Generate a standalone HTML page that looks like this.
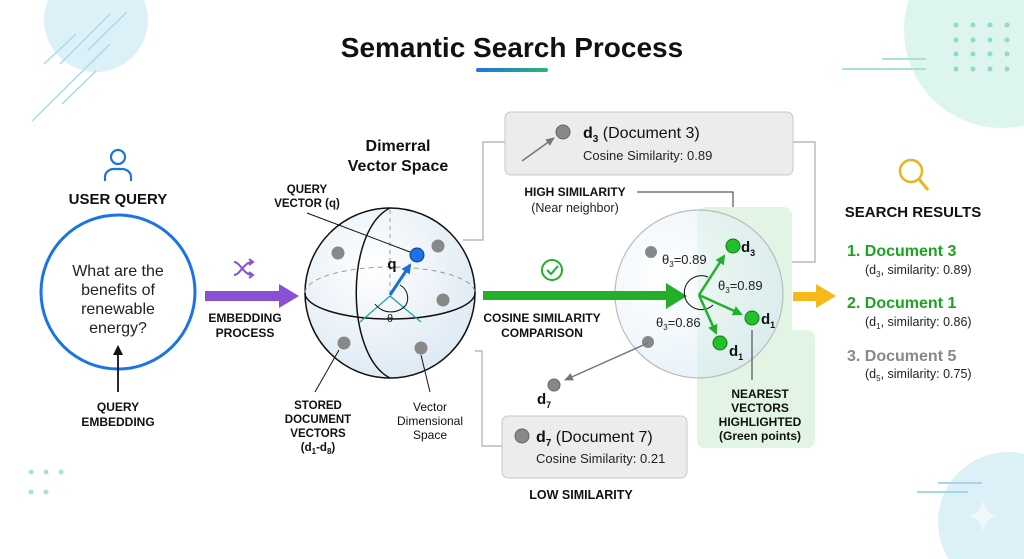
<!DOCTYPE html>
<html><head><meta charset="utf-8"><style>
html,body{margin:0;padding:0;background:#fff;width:1024px;height:559px;overflow:hidden;}
svg{display:block;font-family:"Liberation Sans",sans-serif;}
.b{font-weight:bold;}
</style></head><body>
<svg width="1024" height="559" viewBox="0 0 1024 559" xmlns="http://www.w3.org/2000/svg">
<defs>
<linearGradient id="ul" x1="0" x2="1"><stop offset="0" stop-color="#1a73e8"/><stop offset="1" stop-color="#2bb673"/></linearGradient>
<radialGradient id="sph" cx="0.4" cy="0.35" r="0.7"><stop offset="0" stop-color="#ffffff"/><stop offset="1" stop-color="#dde9f3"/></radialGradient>
<radialGradient id="sph2" cx="0.3" cy="0.4" r="0.7"><stop offset="0" stop-color="#ffffff"/><stop offset="1" stop-color="#d6e8f4"/></radialGradient>
<marker id="ab" markerUnits="userSpaceOnUse" markerWidth="10" markerHeight="10" refX="8" refY="5" orient="auto"><path d="M0,0 L10,5 L0,10 z" fill="#1a6fd8"/></marker>
<marker id="ag" markerUnits="userSpaceOnUse" markerWidth="10" markerHeight="10" refX="8" refY="5" orient="auto"><path d="M0,0 L10,5 L0,10 z" fill="#22b02a"/></marker>
<marker id="agr" markerUnits="userSpaceOnUse" markerWidth="9" markerHeight="8" refX="8" refY="4" orient="auto"><path d="M0,0 L9,4 L0,8 z" fill="#777"/></marker>
<marker id="ak" markerUnits="userSpaceOnUse" markerWidth="10" markerHeight="10" refX="8" refY="5" orient="auto"><path d="M0,0 L10,5 L0,10 z" fill="#111"/></marker>
</defs>
<circle cx="96" cy="20" r="52" fill="#dcf0f8"/>
<g stroke="#a9dbe3" stroke-width="1.5">
<line x1="44" y1="64" x2="76" y2="34"/><line x1="60" y1="64" x2="110" y2="14"/><line x1="88" y1="50" x2="127" y2="12"/>
<line x1="32" y1="121" x2="110" y2="44"/><line x1="62" y1="104" x2="96" y2="71"/></g>
<circle cx="1002" cy="30" r="98" fill="#dcf6ee"/>
<g fill="#8fd8d8">
<circle cx="956" cy="25" r="2.5"/><circle cx="973" cy="25" r="2.5"/><circle cx="990" cy="25" r="2.5"/><circle cx="1007" cy="25" r="2.5"/>
<circle cx="956" cy="40" r="2.5"/><circle cx="973" cy="40" r="2.5"/><circle cx="990" cy="40" r="2.5"/><circle cx="1007" cy="40" r="2.5"/>
<circle cx="956" cy="54" r="2.5"/><circle cx="973" cy="54" r="2.5"/><circle cx="990" cy="54" r="2.5"/><circle cx="1007" cy="54" r="2.5"/>
<circle cx="956" cy="69" r="2.5"/><circle cx="973" cy="69" r="2.5"/><circle cx="990" cy="69" r="2.5"/><circle cx="1007" cy="69" r="2.5"/></g>
<g stroke="#a9e0dc" stroke-width="2"><line x1="842" y1="69" x2="926" y2="69"/><line x1="882" y1="59" x2="926" y2="59"/></g>
<circle cx="1008" cy="522" r="70" fill="#dcf0f8"/>
<path d="M983,500 Q985,513 997,516 Q985,519 983,532 Q981,519 969,516 Q981,513 983,500z" fill="#f0f8fc"/>
<g stroke="#a9d6e6" stroke-width="2"><line x1="938" y1="483" x2="982" y2="483"/><line x1="917" y1="492" x2="968" y2="492"/></g>
<g fill="#a9dfe0"><circle cx="31" cy="472" r="2.5"/><circle cx="46" cy="472" r="2.5"/><circle cx="61" cy="472" r="2.5"/><circle cx="31" cy="492" r="2.5"/><circle cx="46" cy="492" r="2.5"/></g>
<text x="512" y="57" text-anchor="middle" class="b" font-size="28" fill="#111">Semantic Search Process</text>
<rect x="476" y="68" width="72" height="4" rx="2" fill="url(#ul)"/>
<circle cx="118" cy="157" r="7" fill="none" stroke="#1a73e8" stroke-width="2.2"/>
<path d="M105,181 v-4 a9,8 0 0 1 9,-8 h8 a9,8 0 0 1 9,8 v4" fill="none" stroke="#1a73e8" stroke-width="2.2"/>
<text x="118" y="204" text-anchor="middle" class="b" font-size="15" fill="#111">USER QUERY</text>
<circle cx="118" cy="292" r="77" fill="#fff" stroke="#1a73e8" stroke-width="3"/>
<g font-size="16" fill="#222" text-anchor="middle"><text x="118" y="276">What are the</text><text x="118" y="295">benefits of</text><text x="118" y="314">renewable</text><text x="118" y="333">energy?</text></g>
<line x1="118" y1="392" x2="118" y2="347" stroke="#111" stroke-width="1.8" marker-end="url(#ak)"/>
<g class="b" font-size="12" fill="#111" text-anchor="middle"><text x="118" y="411">QUERY</text><text x="118" y="426">EMBEDDING</text></g>
<rect x="205" y="291" width="76" height="10" fill="#8b4fd6"/><path d="M279,284 L299,296 L279,308z" fill="#8b4fd6"/>
<g stroke="#8b4fd6" stroke-width="2" fill="none"><path d="M234,262 c6,0 10,13 18,13"/><path d="M234,275 c6,0 10,-13 18,-13"/><path d="M249,259 l4,3 -4,3"/><path d="M249,272 l4,3 -4,3"/></g>
<g class="b" font-size="12" fill="#111" text-anchor="middle"><text x="245" y="322">EMBEDDING</text><text x="245" y="337">PROCESS</text></g>
<g class="b" font-size="16" fill="#111" text-anchor="middle"><text x="398" y="151">Dimerral</text><text x="398" y="171">Vector Space</text></g>
<g class="b" font-size="11.5" fill="#111" text-anchor="middle"><text x="307" y="193">QUERY</text><text x="307" y="207">VECTOR (q)</text></g>
<circle cx="390" cy="293" r="85" fill="url(#sph)" stroke="#111" stroke-width="1.5"/>
<path d="M305,293 A85,26 0 0 1 475,293" fill="none" stroke="#999" stroke-dasharray="5,4"/>
<path d="M305,293 A85,26 0 0 0 475,293" fill="none" stroke="#111" stroke-width="1.5"/>
<path d="M390,208 C345,230 345,355 390,378" fill="none" stroke="#111" stroke-width="1.5"/>
<line x1="390" y1="210" x2="390" y2="295" stroke="#999" stroke-dasharray="4,4"/>
<line x1="307" y1="213" x2="410" y2="252" stroke="#111"/>
<g stroke="#1aa3a3" stroke-width="1.2"><line x1="390" y1="296" x2="360" y2="322"/><line x1="390" y1="296" x2="421" y2="322"/></g>
<path d="M375,304 A20,20 0 0 0 406,305" fill="none" stroke="#111"/>
<path d="M400,285 A15,15 0 0 1 406,305" fill="none" stroke="#111"/>
<line x1="390" y1="295" x2="410" y2="265" stroke="#1a6fd8" stroke-width="3" marker-end="url(#ab)"/>
<circle cx="417" cy="255" r="7" fill="#1a73e8" stroke="#0b3f8a"/>
<text x="392" y="269" class="b" font-size="15" fill="#111" text-anchor="middle">q</text>
<text x="390" y="322" font-size="11" fill="#111" text-anchor="middle">θ</text>
<g fill="#888"><circle cx="338" cy="253" r="6.5"/><circle cx="438" cy="246" r="6.5"/><circle cx="443" cy="300" r="6.5"/><circle cx="344" cy="343" r="6.5"/><circle cx="421" cy="348" r="6.5"/></g>
<line x1="339" y1="350" x2="315" y2="392" stroke="#111"/>
<line x1="421" y1="355" x2="430" y2="392" stroke="#111"/>
<g class="b" font-size="11.5" fill="#111" text-anchor="middle"><text x="318" y="409">STORED</text><text x="318" y="423">DOCUMENT</text><text x="318" y="437">VECTORS</text><text x="318" y="451">(d<tspan font-size="8" dy="3">1</tspan><tspan dy="-3">-d</tspan><tspan font-size="8" dy="3">8</tspan><tspan dy="-3">)</tspan></text></g>
<g font-size="12" fill="#111" text-anchor="middle"><text x="430" y="411">Vector</text><text x="430" y="425">Dimensional</text><text x="430" y="439">Space</text></g>
<g stroke="#aaa" fill="none" stroke-width="1.2"><path d="M463,240 H483 V142 H505"/><path d="M793,142 H815 V262 H780"/><path d="M475,351 H482 V446 H502"/></g>
<rect x="505" y="112" width="288" height="63" rx="6" fill="#ececec" stroke="#c8c8c8"/>
<circle cx="563" cy="132" r="7" fill="#888" stroke="#666"/>
<line x1="522" y1="161" x2="554" y2="138" stroke="#777" stroke-width="1.5" marker-end="url(#agr)"/>
<text x="583" y="138" font-size="16" fill="#111"><tspan class="b">d</tspan><tspan class="b" font-size="10" dy="4">3</tspan><tspan dy="-4"> (Document 3)</tspan></text>
<text x="583" y="160" font-size="13" fill="#222">Cosine Similarity: 0.89</text>
<text x="575" y="196" class="b" font-size="12" fill="#111" text-anchor="middle">HIGH SIMILARITY</text>
<text x="575" y="212" font-size="12.5" fill="#222" text-anchor="middle">(Near neighbor)</text>
<path d="M637,192 H733 V237" fill="none" stroke="#333"/>
<rect x="697" y="207" width="95" height="241" rx="8" fill="#e2f5e4"/>
<rect x="697" y="330" width="118" height="118" rx="8" fill="#e2f5e4"/>
<circle cx="699" cy="294" r="84" fill="url(#sph2)" fill-opacity="0.6" stroke="#bbb" stroke-width="1.2"/>
<rect x="483" y="291" width="185" height="9" fill="#22b02a"/><path d="M666,283 L687,296 L666,309z" fill="#22b02a"/>
<circle cx="552" cy="270" r="10" fill="none" stroke="#22b02a" stroke-width="2"/><path d="M547,270 l4,4 7,-8" fill="none" stroke="#22b02a" stroke-width="2"/>
<g class="b" font-size="12" fill="#111" text-anchor="middle"><text x="542" y="322">COSINE SIMILARITY</text><text x="542" y="337">COMPARISON</text></g>
<path d="M708,277 A17,17 0 1 0 713,305" fill="none" stroke="#111"/>
<g stroke="#22b02a" stroke-width="2.5"><line x1="699" y1="295" x2="724" y2="256" marker-end="url(#ag)"/><line x1="699" y1="295" x2="741" y2="314" marker-end="url(#ag)"/><line x1="699" y1="295" x2="716" y2="333" marker-end="url(#ag)"/></g>
<g fill="#22c02a" stroke="#127a18"><circle cx="733" cy="246" r="7"/><circle cx="752" cy="318" r="7"/><circle cx="720" cy="343" r="7"/></g>
<g class="b" font-size="15" fill="#111"><text x="741" y="252">d<tspan font-size="9" dy="4">3</tspan></text><text x="761" y="324">d<tspan font-size="9" dy="4">1</tspan></text><text x="729" y="356">d<tspan font-size="9" dy="4">1</tspan></text></g>
<g font-size="13" fill="#222"><text x="662" y="264">θ<tspan font-size="8" dy="3">3</tspan><tspan dy="-3">=0.89</tspan></text><text x="718" y="290">θ<tspan font-size="8" dy="3">3</tspan><tspan dy="-3">=0.89</tspan></text><text x="656" y="327">θ<tspan font-size="8" dy="3">3</tspan><tspan dy="-3">=0.86</tspan></text></g>
<g fill="#888"><circle cx="651" cy="252" r="6"/><circle cx="648" cy="342" r="6"/></g>
<line x1="752" y1="330" x2="752" y2="380" stroke="#333"/>
<g class="b" font-size="12" fill="#111" text-anchor="middle"><text x="760" y="398">NEAREST</text><text x="760" y="412">VECTORS</text><text x="760" y="426">HIGHLIGHTED</text><text x="760" y="440">(Green points)</text></g>
<line x1="648" y1="343" x2="565" y2="380" stroke="#777" stroke-width="1.5" marker-end="url(#agr)"/>
<circle cx="554" cy="385" r="6" fill="#888" stroke="#666"/>
<text x="537" y="404" class="b" font-size="15" fill="#111">d<tspan font-size="9" dy="4">7</tspan></text>
<rect x="502" y="416" width="185" height="62" rx="6" fill="#ececec" stroke="#c8c8c8"/>
<circle cx="522" cy="436" r="7" fill="#888" stroke="#666"/>
<text x="536" y="442" font-size="16" fill="#111"><tspan class="b">d</tspan><tspan class="b" font-size="10" dy="4">7</tspan><tspan dy="-4"> (Document 7)</tspan></text>
<text x="536" y="463" font-size="13" fill="#222">Cosine Similarity: 0.21</text>
<text x="581" y="499" class="b" font-size="12.5" fill="#111" text-anchor="middle">LOW SIMILARITY</text>
<rect x="793" y="292" width="25" height="9" fill="#f6b91a"/><path d="M816,284 L836,296 L816,308z" fill="#f6b91a"/>
<circle cx="911" cy="171" r="11" fill="none" stroke="#e8b51c" stroke-width="2.5"/><line x1="919" y1="179" x2="928" y2="190" stroke="#e8b51c" stroke-width="3"/>
<text x="913" y="217" class="b" font-size="15" fill="#111" text-anchor="middle">SEARCH RESULTS</text>
<g class="b" font-size="16"><text x="847" y="256" fill="#1aa51f">1.  Document 3</text><text x="847" y="308" fill="#1aa51f">2. Document 1</text><text x="847" y="361" fill="#888">3. Document 5</text></g>
<g font-size="12.5" fill="#222"><text x="865" y="274">(d<tspan font-size="8" dy="3">3</tspan><tspan dy="-3">, similarity: 0.89)</tspan></text><text x="865" y="326">(d<tspan font-size="8" dy="3">1</tspan><tspan dy="-3">, similarity: 0.86)</tspan></text><text x="865" y="378">(d<tspan font-size="8" dy="3">5</tspan><tspan dy="-3">, similarity: 0.75)</tspan></text></g>
</svg>
</body></html>
